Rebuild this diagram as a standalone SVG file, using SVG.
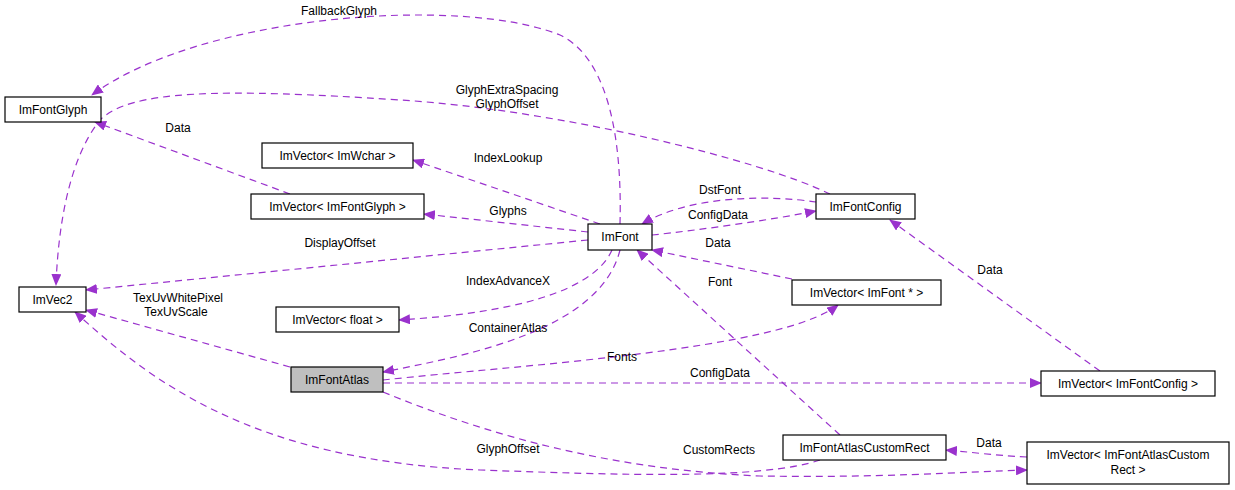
<svg xmlns="http://www.w3.org/2000/svg" width="1235" height="490" viewBox="0 0 1235 490">
<style>
.n rect{fill:#fff;stroke:#000;stroke-width:1.2}
.n.g rect{fill:#bfbfbf}
text{font-family:"Liberation Sans",Arial,sans-serif;font-size:12px;fill:#000}
.n text{text-anchor:middle}
.l{text-anchor:middle}
.e path{fill:none;stroke:#9a32cd;stroke-width:1.2;stroke-dasharray:7,5;marker-end:url(#a)}
</style>
<defs><marker id="a" markerWidth="12" markerHeight="10" refX="11" refY="5" orient="auto" markerUnits="userSpaceOnUse"><path d="M0,0L12,5L0,10z" fill="#9a32cd"/></marker></defs>
<rect width="1235" height="490" fill="#fff"/>
<g id="edges" class="e">
<path d="M620,224 C622,150 612,60 560,35 C460,-5 200,15 92,95"/>
<path d="M830,194 C760,160 560,110 400,100 C220,88 130,90 100,120 C68,160 58,230 56,285"/>
<path d="M290,194 L95,122"/>
<path d="M600,224 L413,160"/>
<path d="M588,232 L424,214"/>
<path d="M588,240 L86,290"/>
<path d="M612,250 C590,300 480,315 399,320"/>
<path d="M620,250 C600,330 470,355 383,372"/>
<path d="M290,367 L86,310"/>
<path d="M383,380 C520,365 780,350 838,305"/>
<path d="M383,383 L1041,383"/>
<path d="M383,392 C500,440 620,470 760,476 C880,478 960,472 1027,470"/>
<path d="M820,460 C760,480 620,475 480,470 C250,460 150,380 75,312"/>
<path d="M816,202 C770,195 690,195 642,224"/>
<path d="M652,235 C700,230 770,220 816,211"/>
<path d="M792,279 L652,250"/>
<path d="M840,435 L637,250"/>
<path d="M1100,371 L890,220"/>
<path d="M1027,457 C990,455 970,452 946,450"/>
</g>
<g id="labels">
<text class="l" x="339" y="15">FallbackGlyph</text>
<text class="l" x="507" y="94">GlyphExtraSpacing</text>
<text class="l" x="507" y="108">GlyphOffset</text>
<text class="l" x="178" y="132">Data</text>
<text class="l" x="508" y="162">IndexLookup</text>
<text class="l" x="508" y="215">Glyphs</text>
<text class="l" x="340" y="247">DisplayOffset</text>
<text class="l" x="508" y="285">IndexAdvanceX</text>
<text class="l" x="508" y="332">ContainerAtlas</text>
<text class="l" x="178" y="302">TexUvWhitePixel</text>
<text class="l" x="176" y="316">TexUvScale</text>
<text class="l" x="622" y="361">Fonts</text>
<text class="l" x="720" y="377">ConfigData</text>
<text class="l" x="719" y="454">CustomRects</text>
<text class="l" x="508" y="453">GlyphOffset</text>
<text class="l" x="720" y="194">DstFont</text>
<text class="l" x="718" y="219">ConfigData</text>
<text class="l" x="718" y="247">Data</text>
<text class="l" x="720" y="286">Font</text>
<text class="l" x="990" y="274">Data</text>
<text class="l" x="989" y="447">Data</text>
</g>
<g id="ImFontGlyph" class="n"><rect x="5" y="97" width="96" height="25"/><text x="53" y="114">ImFontGlyph</text></g>
<g id="ImVec2" class="n"><rect x="19" y="287" width="67" height="25"/><text x="52.5" y="304">ImVec2</text></g>
<g id="ImVectorImWchar" class="n"><rect x="262" y="143" width="151" height="25"/><text x="337.5" y="160">ImVector&lt; ImWchar &gt;</text></g>
<g id="ImVectorImFontGlyph" class="n"><rect x="251" y="194" width="173" height="25"/><text x="337.5" y="211">ImVector&lt; ImFontGlyph &gt;</text></g>
<g id="ImVectorFloat" class="n"><rect x="276" y="307" width="123" height="25"/><text x="337.5" y="324">ImVector&lt; float &gt;</text></g>
<g id="ImFontAtlas" class="n g"><rect x="291" y="367" width="92" height="25"/><text x="337" y="384">ImFontAtlas</text></g>
<g id="ImFont" class="n"><rect x="588" y="224" width="64" height="26"/><text x="620" y="241">ImFont</text></g>
<g id="ImFontConfig" class="n"><rect x="816" y="194" width="99" height="25"/><text x="865.5" y="211">ImFontConfig</text></g>
<g id="ImVectorImFontPtr" class="n"><rect x="792" y="280" width="149" height="25"/><text x="866.5" y="297">ImVector&lt; ImFont * &gt;</text></g>
<g id="ImVectorImFontConfig" class="n"><rect x="1041" y="371" width="174" height="25"/><text x="1128" y="388">ImVector&lt; ImFontConfig &gt;</text></g>
<g id="ImFontAtlasCustomRect" class="n"><rect x="783" y="435" width="163" height="25"/><text x="864.5" y="452">ImFontAtlasCustomRect</text></g>
<g id="ImVectorCustomRect" class="n"><rect x="1027" y="442" width="202" height="42"/><text x="1128" y="459">ImVector&lt; ImFontAtlasCustom</text><text x="1128" y="474">Rect &gt;</text></g>
</svg>
